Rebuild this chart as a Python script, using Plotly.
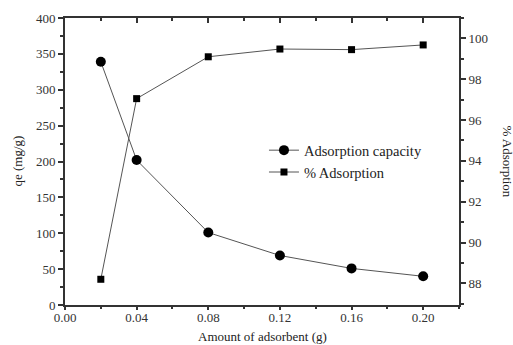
import plotly.graph_objects as go

amount = [0.02, 0.04, 0.08, 0.12, 0.16, 0.20]
capacity = [339, 202, 101, 69, 51, 40]
percent_ads = [88.2, 97.05, 99.1, 99.48, 99.45, 99.68]

x_ticks = [0.00, 0.04, 0.08, 0.12, 0.16, 0.20]
x_tick_labels = ["0.00", "0.04", "0.08", "0.12", "0.16", "0.20"]

FONT = "Liberation Serif"
AX = "#333333"

fig = go.Figure()
fig.add_trace(go.Scatter(
    x=amount, y=capacity, name="Adsorption capacity", mode="lines+markers",
    line=dict(color="#555555", width=1),
    marker=dict(symbol="circle", size=10, color="black"),
    yaxis="y", xaxis="x"))
fig.add_trace(go.Scatter(
    x=amount, y=percent_ads, name="% Adsorption", mode="lines+markers",
    line=dict(color="#555555", width=1),
    marker=dict(symbol="square", size=7, color="black"),
    yaxis="y2", xaxis="x"))

common = dict(showgrid=False, zeroline=False, linecolor=AX, linewidth=2, automargin=False,
              tickcolor=AX, tickwidth=1.5, tickfont=dict(family=FONT, size=13, color="#333"))

title_font = dict(family=FONT, size=13, color="#222")

fig.update_layout(
    width=513, height=345,
    margin=dict(l=65, r=54, t=18, b=40),
    plot_bgcolor="white", paper_bgcolor="white",
    font=dict(family=FONT, color="#222"),
    showlegend=True,
    legend=dict(x=0.505, y=0.595, xanchor="left", yanchor="top",
                bgcolor="rgba(0,0,0,0)", font=dict(family=FONT, size=14.5, color="#222"),
                itemwidth=30, tracegroupgap=0),
    xaxis=dict(range=[0, 0.22], tickvals=x_ticks, ticktext=x_tick_labels,
               ticks="outside", ticklen=3, ticklabelstandoff=-4,
               minor=dict(dtick=0.02, tick0=0, ticks="outside", ticklen=2, tickcolor=AX),
               **common),
    xaxis2=dict(range=[0, 0.22], overlaying="x", side="top", tickvals=x_ticks,
                showticklabels=False, ticks="inside", ticklen=5,
                minor=dict(dtick=0.02, tick0=0, ticks="inside", ticklen=3, tickcolor=AX),
                **common),
    yaxis=dict(range=[0, 400], dtick=50, ticks="outside", ticklen=5,
               minor=dict(dtick=25, ticks="outside", ticklen=3, tickcolor=AX),
               **common),
    yaxis2=dict(range=[86.94, 101], overlaying="y", side="right", dtick=2,
                ticks="outside", ticklen=5,
                minor=dict(dtick=1, ticks="outside", ticklen=3, tickcolor=AX),
                **common),
    annotations=[
        dict(text="% Adsorption", textangle=90, xref="paper", yref="paper",
             x=1.0, xanchor="center", xshift=48, y=0.5, showarrow=False, font=title_font),
        dict(text="qe (mg/g)", textangle=-90, xref="paper", yref="paper",
             x=0.0, xanchor="center", xshift=-48, y=0.5, showarrow=False, font=title_font),
        dict(text="Amount of adsorbent (g)", xref="paper", yref="paper",
             x=0.5, y=0.0, yanchor="middle", yshift=-31, showarrow=False, font=title_font),
    ],
)
# dummy trace to activate top axis
fig.add_trace(go.Scatter(x=[None], y=[None], xaxis="x2", yaxis="y", showlegend=False))

fig.write_html("out.html")
